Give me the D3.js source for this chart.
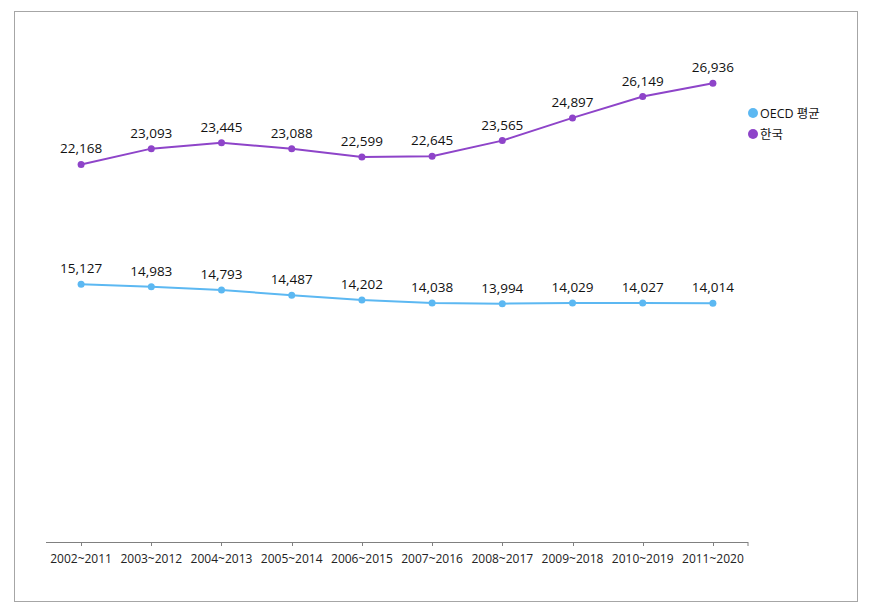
<!DOCTYPE html>
<html>
<head>
<meta charset="utf-8">
<script src="https://cdn.jsdelivr.net/npm/d3@7"></script>
<style>
  body { margin: 0; background: #fff; }
  svg text { font-family: "Open Sans", "Noto Sans", "Noto Sans CJK KR", sans-serif; }
</style>
</head>
<body>
<div id="chart-area"></div>
<script>
let periods = ["2002~2011", "2003~2012", "2004~2013", "2005~2014", "2006~2015",
  "2007~2016", "2008~2017", "2009~2018", "2010~2019", "2011~2020"]
let oecd = [15127, 14983, 14793, 14487, 14202, 14038, 13994, 14029, 14027, 14014]
let korea = [22168, 23093, 23445, 23088, 22599, 22645, 23565, 24897, 26149, 26936]
let seriesNames = ["OECD 평균", "한국"]
let seriesColors = ["#5cb8f2", "#8e44c9"]

let width = 869, height = 608

let svg = d3.select("#chart-area").append("svg")
  .attr("width", width)
  .attr("height", height)

// outer frame
svg.append("rect")
  .attr("x", 14.5).attr("y", 11.5)
  .attr("width", 843).attr("height", 590)
  .attr("fill", "none")
  .attr("stroke", "#a6a6a6")

let x = d3.scalePoint()
  .domain(periods)
  .range([46, 748])
  .padding(0.5)

let y = d3.scaleLinear()
  .domain([0, 30000])
  .range([542, 31])

// x axis
let axis = svg.append("g")
axis.append("line")
  .attr("x1", 46).attr("x2", 748)
  .attr("y1", 542.5).attr("y2", 542.5)
  .attr("stroke", "#808080")
axis.selectAll(".tick")
  .data(periods.concat(["end"]))
  .enter()
  .append("line")
    .attr("x1", (d) => { return d === "end" ? 748 : Math.round(x(d)) + 0.5 })
    .attr("x2", (d) => { return d === "end" ? 748 : Math.round(x(d)) + 0.5 })
    .attr("y1", 542)
    .attr("y2", 546)
    .attr("stroke", "#808080")
axis.selectAll("text")
  .data(periods)
  .enter()
  .append("text")
    .attr("x", (d) => { return x(d) })
    .attr("y", 563)
    .attr("text-anchor", "middle")
    .attr("font-size", 12)
    .attr("fill", "#222")
    .text((d) => { return d })

let line = d3.line()
  .x((d, i) => { return x(periods[i]) })
  .y((d) => { return y(d) })

let allSeries = [oecd, korea]

allSeries.forEach((values, s) => {
  let g = svg.append("g")
  g.append("path")
    .attr("d", line(values))
    .attr("fill", "none")
    .attr("stroke", seriesColors[s])
    .attr("stroke-width", 2)
  g.selectAll("circle")
    .data(values)
    .enter()
    .append("circle")
      .attr("cx", (d, i) => { return x(periods[i]) })
      .attr("cy", (d) => { return y(d) })
      .attr("r", 3.5)
      .attr("fill", seriesColors[s])
  g.selectAll("text")
    .data(values)
    .enter()
    .append("text")
      .attr("x", (d, i) => { return x(periods[i]) })
      .attr("y", (d) => { return y(d) - 11 })
      .attr("text-anchor", "middle")
      .attr("font-size", 13.5)
      .attr("fill", "#111")
      .text((d) => { return d3.format(",")(d) })
})

// legend
let legend = svg.append("g")
seriesNames.forEach((name, i) => {
  legend.append("circle")
    .attr("cx", 753)
    .attr("cy", 113 + i * 21)
    .attr("r", 5)
    .attr("fill", seriesColors[i])
  legend.append("text")
    .attr("x", 760)
    .attr("y", 117.5 + i * 21)
    .attr("font-size", 12.5)
    .attr("fill", "#111")
    .text(name)
})
</script>
</body>
</html>
